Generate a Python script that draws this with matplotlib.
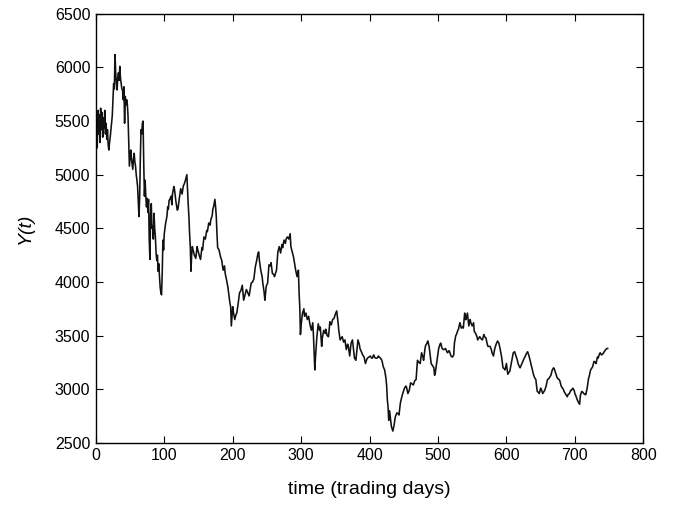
import matplotlib
matplotlib.use("Agg")
import matplotlib.pyplot as plt

# trading day and index value
days = [
    0, 1, 2, 3, 4, 5, 6, 7, 8, 9, 10, 11, 12, 13, 14, 15, 16, 17, 18, 19,
    20, 21, 22, 24, 25, 26, 27, 28, 29, 30, 31, 32, 33, 34, 35, 36, 37, 38, 39,
    40, 41, 42, 43, 44, 45, 46, 47, 48, 49, 50, 51, 52, 53, 54, 55, 56, 57, 58, 59,
    60, 61, 62, 63, 64, 65, 66, 67, 68, 69, 70, 71, 72, 73, 74, 75, 76, 77, 78, 79,
    80, 81, 82, 83, 84, 85, 86, 87, 88, 89, 90, 91, 92, 93, 94, 95, 96, 97, 98, 99,
    100, 101, 102, 103, 104, 105, 106, 107, 108, 110, 111, 112, 114, 115, 117, 119,
    120, 122, 124, 126, 128, 129, 131, 133, 134, 135, 136, 137, 138, 139,
    140, 141, 142, 144, 146, 148, 149, 151, 153, 155, 156, 158,
    160, 162, 163, 165, 167, 168, 170, 171, 172, 174, 175, 176, 177, 178,
    180, 182, 184, 186, 188, 189, 191, 193, 194, 196, 197, 198, 199,
    200, 201, 203, 205, 206, 208, 210, 212, 214, 215, 216, 218,
    220, 222, 224, 226, 227, 229, 231, 233, 235, 237, 238, 239,
    241, 243, 244, 246, 247, 249, 251, 253, 255, 256, 258,
    260, 261, 263, 264, 265, 266, 268, 270, 272, 273, 275, 277, 278,
    280, 282, 284, 285, 287, 289, 291, 292, 294, 296, 297, 298, 299,
    300, 302, 304, 305, 307, 309, 311, 313, 315, 317, 318,
    320, 321, 323, 325, 327, 328, 330, 331, 333, 335, 336, 338,
    340, 342, 344, 346, 348, 350, 352, 354, 355, 357,
    360, 362, 364, 366, 368, 369, 371, 373, 375, 377, 378,
    380, 382, 383, 385, 386, 388, 390, 392, 394, 396, 397, 399,
    401, 403, 404, 406, 407, 409, 411, 413, 414, 416, 418,
    420, 422, 424, 425, 426, 427, 428, 429, 430, 431, 432, 433, 434, 435, 436, 437, 438,
    440, 442, 443, 445, 446, 448, 450, 451, 453, 454, 456, 458,
    460, 462, 464, 466, 468, 470, 472, 474, 476, 478, 479,
    481, 482, 484, 485, 487, 488, 490, 492, 494, 495, 496, 498,
    500, 501, 503, 504, 506, 508, 509, 511, 513, 514, 516, 517, 519,
    521, 523, 524, 526, 527, 529, 530, 532, 533, 534, 536, 537, 539,
    540, 541, 543, 544, 545, 547, 548, 550, 552, 553, 555, 557, 558,
    560, 561, 563, 565, 567, 568, 570, 572, 573, 575, 576, 578, 579,
    581, 583, 585, 587, 589, 591, 593, 595, 597, 598,
    600, 602, 604, 605, 607, 609, 610, 612, 614, 616, 617, 619,
    620, 622, 624, 626, 627, 629, 631, 633, 635, 636, 638, 639,
    641, 643, 645, 647, 648, 650, 651, 653, 655, 656, 658,
    660, 662, 664, 665, 667, 669, 670, 672, 674, 675, 677, 678,
    680, 682, 683, 685, 687, 689, 690, 692, 694, 695, 697, 699,
    700, 702, 703, 705, 707, 708, 710, 712, 713, 715, 716, 718,
    720, 721, 723, 725, 726, 728, 730, 731, 733, 734, 736, 737, 739,
    741, 742, 744, 745, 747, 748,
]
y_values = [
    5300, 5520, 5250, 5600, 5380, 5560, 5300, 5620, 5420, 5580, 5350, 5530, 5430, 5600, 5380, 5480, 5330, 5420, 5280, 5230,
    5300, 5350, 5420, 5550, 5700, 5850, 5800, 6120, 5950, 5850, 5790, 5900, 5950, 5880, 6010, 5900, 5850, 5800, 5790,
    5700, 5820, 5480, 5730, 5650, 5700, 5660, 5550, 5330, 5080, 5150, 5230, 5150, 5100, 5050, 5150, 5200, 5120, 5080, 5000,
    4950, 4890, 4750, 4610, 4780, 5150, 5420, 5380, 5480, 5500, 5100, 4800, 4950, 4800, 4700, 4780, 4650, 4770, 4400, 4210,
    4640, 4730, 4500, 4520, 4400, 4640, 4500, 4420, 4270, 4200, 4250, 4100, 4170, 4050, 3950, 3900, 3880, 4080, 4390, 4300,
    4450, 4500, 4550, 4580, 4620, 4700, 4680, 4760, 4770, 4800, 4720, 4820, 4890, 4860, 4750, 4670,
    4680, 4780, 4870, 4820, 4900, 4910, 4950, 5000, 4850, 4720, 4610, 4450, 4330, 4100,
    4250, 4330, 4300, 4250, 4220, 4330, 4300, 4250, 4210, 4320, 4300, 4420,
    4400, 4480, 4470, 4550, 4530, 4580, 4620, 4680, 4700, 4770, 4700, 4610, 4450, 4320,
    4300, 4240, 4200, 4110, 4150, 4080, 4020, 3950, 3900, 3800, 3770, 3590, 3680,
    3770, 3720, 3650, 3700, 3710, 3800, 3900, 3920, 3970, 3900, 3830, 3880,
    3930, 3900, 3870, 3950, 3990, 4000, 4030, 4140, 4200, 4270, 4280, 4200,
    4110, 4050, 3990, 3900, 3830, 3960, 3990, 4160, 4150, 4180, 4080,
    4070, 4050, 4090, 4110, 4200, 4280, 4330, 4270, 4350, 4320, 4390, 4360, 4400,
    4420, 4400, 4450, 4330, 4280, 4230, 4150, 4110, 4050, 4110, 3900, 3770, 3510,
    3600, 3710, 3750, 3680, 3710, 3650, 3680, 3600, 3550, 3620, 3500,
    3180, 3300, 3490, 3610, 3550, 3580, 3400, 3480, 3550, 3520, 3560, 3500,
    3490, 3630, 3600, 3650, 3660, 3700, 3730, 3620, 3550, 3460,
    3490, 3440, 3460, 3370, 3420, 3400, 3310, 3430, 3460, 3350, 3290,
    3270, 3400, 3460, 3420, 3380, 3350, 3320, 3300, 3240, 3280, 3290, 3300,
    3310, 3290, 3290, 3320, 3300, 3290, 3290, 3310, 3300, 3290, 3270,
    3210, 3180, 3100, 3030, 2900, 2840, 2710, 2800, 2760, 2700, 2650, 2630, 2610, 2640, 2670, 2720, 2750,
    2780, 2770, 2760, 2870, 2900, 2950, 2990, 3010, 3030, 3020, 2960, 2990,
    3060, 3050, 3040, 3080, 3090, 3270, 3250, 3240, 3340, 3300, 3270,
    3380, 3410, 3430, 3450, 3400, 3350, 3240, 3220, 3200, 3130, 3150, 3240,
    3330, 3380, 3420, 3430, 3380, 3370, 3370, 3380, 3350, 3340, 3360, 3350, 3310,
    3300, 3320, 3430, 3500, 3510, 3550, 3560, 3620, 3600, 3570, 3580, 3570, 3710,
    3650, 3650, 3710, 3650, 3590, 3650, 3620, 3590, 3620, 3540, 3520, 3490, 3460,
    3480, 3490, 3470, 3460, 3510, 3490, 3480, 3420, 3400, 3400, 3400, 3370, 3340,
    3310, 3380, 3420, 3450, 3430, 3370, 3300, 3200, 3190, 3180,
    3240, 3140, 3160, 3170, 3240, 3310, 3340, 3350, 3310, 3270, 3240, 3210,
    3200, 3230, 3260, 3290, 3300, 3330, 3350, 3310, 3260, 3230, 3180, 3150,
    3110, 3090, 2980, 2970, 2960, 3010, 3000, 2960, 2980, 2990, 3030,
    3090, 3100, 3120, 3130, 3180, 3200, 3190, 3150, 3110, 3100, 3090, 3080,
    3030, 3010, 3000, 2970, 2950, 2930, 2950, 2960, 2990, 2990, 3010, 2990,
    2960, 2930, 2910, 2880, 2860, 2940, 2980, 2970, 2960, 2950, 2950, 3010,
    3100, 3120, 3180, 3200, 3210, 3260, 3250, 3240, 3300, 3290, 3330, 3340, 3320,
    3330, 3340, 3360, 3370, 3380, 3380,
]

x_ticks = [0, 100, 200, 300, 400, 500, 600, 700, 800]
y_ticks = [2500, 3000, 3500, 4000, 4500, 5000, 5500, 6000, 6500]

plt.rcParams["font.family"] = ["Liberation Sans", "DejaVu Sans"]

fig = plt.figure(figsize=(6.75, 5.12), dpi=100)
ax = fig.add_axes([0.142, 0.135, 0.811, 0.838])

ax.plot(days, y_values, color="#111111", linewidth=1.15)

ax.set_xlim(0, 800)
ax.set_ylim(2500, 6500)
ax.set_xticks(x_ticks)
ax.set_yticks(y_ticks)
ax.tick_params(direction="in", length=5, width=0.8, labelsize=11.5,
               top=True, right=True, pad=4)
for s in ax.spines.values():
    s.set_linewidth(1.0)

ax.set_xlabel("time (trading days)", fontsize=14, labelpad=13)
ax.set_ylabel("Y(t)", fontsize=14, fontstyle="italic", labelpad=15)

fig.savefig("out.png", dpi=100)
